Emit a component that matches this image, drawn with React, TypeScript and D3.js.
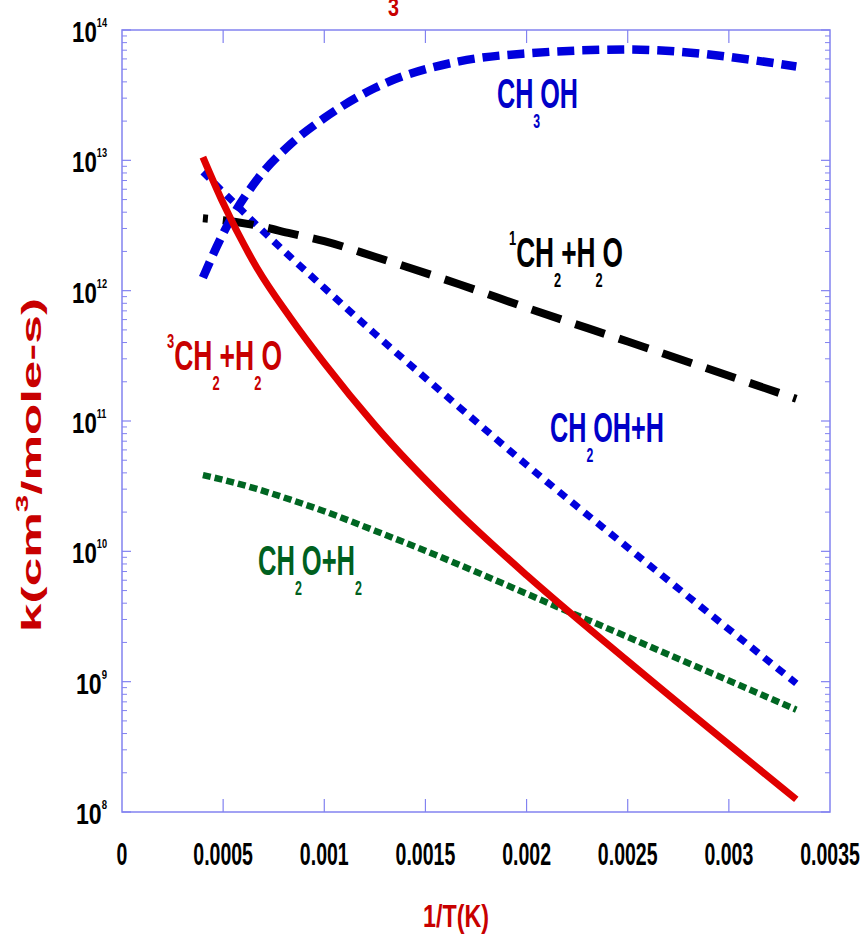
import * as d3 from "d3";
import React from "react";

// 1/T grid (2500K ... 300K)
const invT = [0.0004, 0.0005, 1 / 1500, 1 / 1200, 0.001, 0.00125, 1 / 600, 0.002, 0.0025, 1 / 300];

const k3CH2 = [1.06e13, 4.7e12, 1.5e12, 6.17e11, 2.78e11, 9.3e10, 1.96e10, 6.56e9, 1.44e9, 1.25e8];
const kCH2OH = [8.13e12, 5.73e12, 3.18e12, 1.81e12, 1.05e12, 4.67e11, 1.28e11, 4.61e10, 1.07e10, 9.7e8];
const k1CH2 = [3.59e12, 3.47e12, 3.16e12, 2.75e12, 2.4e12, 1.82e12, 1.12e12, 7.4e11, 4.07e11, 1.48e11];
const kCH3OH = [1.26e12, 2.75e12, 7.08e12, 1.33e13, 2.11e13, 3.59e13, 5.75e13, 6.61e13, 7.08e13, 5.25e13];
const kCH2O = [3.85e10, 3.54e10, 3.01e10, 2.49e10, 2.03e10, 1.44e10, 7.9e9, 4.73e9, 2.2e9, 6.1e8];

const xTicks = [0, 0.0005, 0.001, 0.0015, 0.002, 0.0025, 0.003, 0.0035];
const xTickLabels = ["0", "0.0005", "0.001", "0.0015", "0.002", "0.0025", "0.003", "0.0035"];
const yExps = [8, 9, 10, 11, 12, 13, 14];

const FONT = "'Liberation Sans', Arial, sans-serif";

// rough Arial Bold advance widths, used to squeeze labels to the reference widths
const ADV = {
  C: 0.722, H: 0.722, O: 0.778, "+": 0.584, ".": 0.278, "/": 0.278, T: 0.611,
  "(": 0.333, ")": 0.333, K: 0.722, k: 0.556, c: 0.556, m: 0.889, o: 0.611,
  l: 0.278, e: 0.556, "-": 0.333, s: 0.556,
};
const adv = (ch) => (ADV[ch] !== undefined ? ADV[ch] : 0.556);

function Label({ parts, x, y, size, small, subDy = 0, supDy = 0, width, sx, anchor = "start", color, rotate }) {
  let natural = 0;
  parts.forEach((p) => {
    const fs = p[1] ? small : size;
    for (const ch of p[0]) natural += adv(ch) * fs;
  });
  const s = width ? width / natural : sx || 1;
  const shift = anchor === "end" ? -natural : anchor === "middle" ? -natural / 2 : 0;
  let cur = 0;
  const spans = parts.map((p, i) => {
    const off = p[1] === "sub" ? subDy : p[1] === "sup" ? -supDy : 0;
    const dy = off - cur;
    cur = off;
    return (
      <tspan key={i} dy={dy} fontSize={p[1] ? small : size}>
        {p[0]}
      </tspan>
    );
  });
  return (
    <g transform={`translate(${x},${y})` + (rotate ? " rotate(-90)" : "") + ` scale(${s},1)`}>
      <text x={shift} fontFamily={FONT} fontWeight="bold" fill={color} fontSize={size}>
        {spans}
      </text>
    </g>
  );
}

export default function App() {
  const W = 865, H = 937;
  const L = 122, R = 830, T = 30, B = 812;
  const x = d3.scaleLinear().domain([0, 0.0035]).range([L, R]);
  const y = d3.scaleLog().domain([1e8, 1e14]).range([B, T]);
  const axisCol = "#8282f0";

  const series = [
    { k: kCH2O, color: "#006622", w: 6.5, dash: "8 4", off: 0 },
    { k: kCH2OH, color: "#0000dd", w: 7, dash: "9 7.5", off: 0 },
    { k: k1CH2, color: "#000", w: 8, dash: "31 15", off: 26 },
    { k: kCH3OH, color: "#0000dd", w: 8.5, dash: "17 8", off: 0 },
    { k: k3CH2, color: "#e00000", w: 7, dash: null, off: 0 },
  ];
  const line = d3
    .line()
    .x((d) => x(d[0]))
    .y((d) => y(d[1]))
    .curve(d3.curveMonotoneX);

  const yTickEls = [];
  yExps.forEach((e) => {
    const yy = y(Math.pow(10, e));
    yTickEls.push(<line key={`L${e}`} x1={L} x2={L + 9} y1={yy} y2={yy} stroke={axisCol} strokeWidth={1.2} />);
    yTickEls.push(<line key={`R${e}`} x1={R} x2={R - 9} y1={yy} y2={yy} stroke={axisCol} strokeWidth={1.2} />);
    if (e < 14) {
      d3.range(2, 10).forEach((m) => {
        const ym = y(m * Math.pow(10, e));
        yTickEls.push(<line key={`l${e}-${m}`} x1={L} x2={L + 5} y1={ym} y2={ym} stroke={axisCol} strokeWidth={1} />);
        yTickEls.push(<line key={`r${e}-${m}`} x1={R} x2={R - 5} y1={ym} y2={ym} stroke={axisCol} strokeWidth={1} />);
      });
    }
  });

  const lab = { size: 43, small: 21, subDy: 20, supDy: 22 };

  return (
    <svg
      width={W}
      height={H}
      style={{ position: "absolute", left: 0, top: 0, background: "#fff" }}
    >
      <rect x={L} y={T} width={R - L} height={B - T} fill="none" stroke={axisCol} strokeWidth={1.5} />

      {xTicks.slice(1, -1).map((v) => (
        <g key={v}>
          <line x1={x(v)} x2={x(v)} y1={B} y2={B - 13} stroke={axisCol} strokeWidth={1.2} />
          <line x1={x(v)} x2={x(v)} y1={T} y2={T + 13} stroke={axisCol} strokeWidth={1.2} />
        </g>
      ))}
      {yTickEls}

      {xTicks.map((v, i) => (
        <Label key={v} parts={[[xTickLabels[i]]]} x={x(v)} y={865} size={31} small={14} sx={0.63} anchor="middle" color="#000" />
      ))}
      {yExps.map((e) => (
        <Label
          key={e}
          parts={[["10"], [String(e), "sup"]]}
          x={107}
          y={y(Math.pow(10, e)) + 12}
          size={29}
          small={12}
          supDy={15}
          width={String(e).length > 1 ? 35 : 31}
          anchor="end"
          color="#000"
        />
      ))}

      <Label parts={[["1/T(K)"]]} x={423} y={927} size={32} small={14} width={66} color="#c80000" />
      <Label
        parts={[["k(cm"], ["3", "sup"], ["/mole-s)"]]}
        x={41}
        y={632}
        size={28}
        small={17}
        supDy={13}
        width={334}
        rotate
        color="#c80000"
      />
      <Label parts={[["3"]]} x={388} y={16} size={26} small={12} width={11} color="#c80000" />

      {series.map((s, i) => (
        <path
          key={i}
          d={line(invT.map((v, j) => [v, s.k[j]]))}
          fill="none"
          stroke={s.color}
          strokeWidth={s.w}
          strokeLinejoin="round"
          strokeDasharray={s.dash || undefined}
          strokeDashoffset={s.off}
        />
      ))}

      <Label {...lab} parts={[["CH"], ["3", "sub"], ["OH"]]} x={497} y={108} width={81} color="#0000c8" />
      <Label {...lab} parts={[["1", "sup"], ["CH"], ["2", "sub"], ["+H"], ["2", "sub"], ["O"]]} x={509} y={267} width={114} color="#000" />
      <Label {...lab} parts={[["3", "sup"], ["CH"], ["2", "sub"], ["+H"], ["2", "sub"], ["O"]]} x={167} y={370} width={115} color="#c80000" />
      <Label {...lab} parts={[["CH"], ["2", "sub"], ["OH+H"]]} x={550} y={442} width={114} color="#0000c8" />
      <Label {...lab} parts={[["CH"], ["2", "sub"], ["O+H"], ["2", "sub"]]} x={258} y={575} width={104} color="#006020" />
    </svg>
  );
}
